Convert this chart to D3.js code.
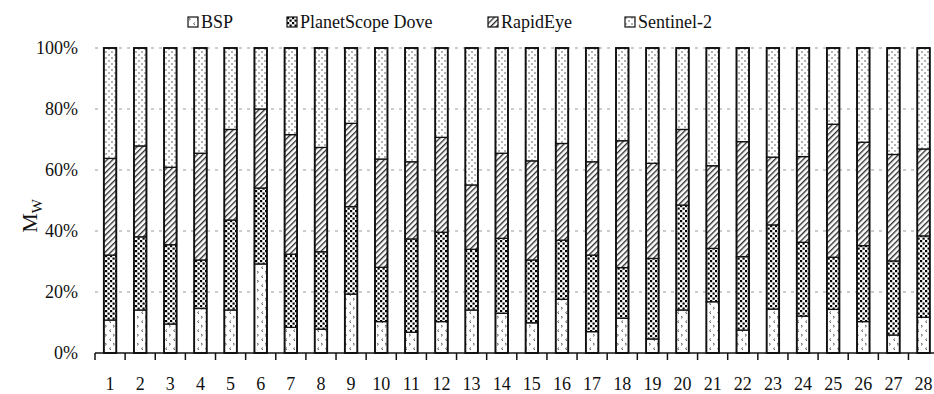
<!DOCTYPE html>
<html>
<head>
<meta charset="utf-8">
<script src="https://cdn.jsdelivr.net/npm/d3@7"></script>
<style>
  body { margin: 0; background: #fff; }
  svg { display: block; }
</style>
</head>
<body>
<svg id="chart" width="934" height="394"></svg>
<script>
// sample ids
var categories = d3.range(1, 29).map(String);
// share of each satellite in M_W (percent)
var bsp      = [10.8,14.1, 9.5,14.6,14.1,29.2, 8.4, 7.8,19.3,10.3, 6.8,10.3,14.1,13.0, 9.9,17.6, 7.0,11.4, 4.6,14.1,16.8, 7.5,14.4,12.1,14.3,10.3, 5.9,11.7];
var planet   = [21.3,24.0,26.0,15.9,29.5,24.9,24.0,25.4,28.7,17.8,30.6,29.3,19.9,24.6,20.6,19.4,25.1,16.6,26.4,34.4,17.5,24.1,27.6,24.2,17.1,24.9,24.3,26.7];
var rapideye = [31.7,29.8,25.4,35.0,29.7,25.9,39.2,34.2,27.3,35.5,25.3,31.1,21.1,27.9,32.5,31.7,30.6,41.6,31.2,24.8,27.1,37.7,22.2,28.1,43.6,33.9,34.9,28.5];
var sentinel = [36.2,32.1,39.1,34.5,26.7,20.0,28.4,32.6,24.7,36.4,37.3,29.3,44.9,34.5,37.0,31.3,37.3,30.4,37.8,26.7,38.6,30.7,35.8,35.6,25.0,30.9,34.9,33.1];
var seriesNames = ["BSP", "PlanetScope Dove", "RapidEye", "Sentinel-2"];
var yTicks = [0, 20, 40, 60, 80, 100];

var FONT = "'Liberation Serif', 'DejaVu Serif', serif";

var svg = d3.select("#chart");
var margin = {top: 48, left: 95, bottom: 41};
var height = 394 - margin.top - margin.bottom;
var plotRight = 938.6;

// ---- patterns ----
var defs = svg.append("defs");

var pBsp = defs.append("pattern").attr("id", "pat0")
    .attr("patternUnits", "userSpaceOnUse").attr("width", 8).attr("height", 9);
pBsp.append("rect").attr("width", 8).attr("height", 9).attr("fill", "#fff");
pBsp.append("path").attr("d", "M1,1 L2.5,2.2 L1,3.4").attr("fill", "none").attr("stroke", "#555").attr("stroke-width", 0.9);
pBsp.append("path").attr("d", "M7,5.5 L5.5,6.7 L7,7.9").attr("fill", "none").attr("stroke", "#555").attr("stroke-width", 0.9);

var pPl = defs.append("pattern").attr("id", "pat1")
    .attr("patternUnits", "userSpaceOnUse").attr("width", 5).attr("height", 5);
pPl.append("rect").attr("width", 5).attr("height", 5).attr("fill", "#fff");
pPl.append("rect").attr("x", 0).attr("y", 0).attr("width", 2.2).attr("height", 2.2).attr("fill", "#000");
pPl.append("rect").attr("x", 2.5).attr("y", 2.5).attr("width", 2.2).attr("height", 2.2).attr("fill", "#000");

var pRe = defs.append("pattern").attr("id", "pat2")
    .attr("patternUnits", "userSpaceOnUse").attr("width", 4).attr("height", 4)
    .attr("patternTransform", "rotate(45)");
pRe.append("rect").attr("width", 4).attr("height", 4).attr("fill", "#fff");
pRe.append("line").attr("x1", 0.7).attr("y1", 0).attr("x2", 0.7).attr("y2", 4)
    .attr("stroke", "#222").attr("stroke-width", 1.3);

var pSe = defs.append("pattern").attr("id", "pat3")
    .attr("patternUnits", "userSpaceOnUse").attr("width", 6).attr("height", 6);
pSe.append("rect").attr("width", 6).attr("height", 6).attr("fill", "#fff");
pSe.append("circle").attr("cx", 1).attr("cy", 1).attr("r", 0.8).attr("fill", "#555");
pSe.append("circle").attr("cx", 4).attr("cy", 4).attr("r", 0.8).attr("fill", "#555");

// ---- data ----
var data = categories.map(function(c, i) {
    return {cat: c, BSP: bsp[i], "PlanetScope Dove": planet[i], RapidEye: rapideye[i], "Sentinel-2": sentinel[i]};
});
var stacked = d3.stack().keys(seriesNames)(data);

var x = d3.scaleBand().domain(categories).range([margin.left, plotRight])
    .paddingInner(0.585).paddingOuter(0.2925);
var step = x.step();
var y = d3.scaleLinear().domain([0, 100]).range([margin.top + height, margin.top]);

// gridlines
svg.append("g").selectAll("line")
    .data(yTicks.filter(function(t) { return t > 0; }))
    .enter().append("line")
    .attr("x1", margin.left).attr("x2", 934)
    .attr("y1", function(d) { return y(d); }).attr("y2", function(d) { return y(d); })
    .attr("stroke", "#999").attr("stroke-width", 1.2).attr("stroke-dasharray", "3,5");

// y labels
svg.append("g").selectAll("text")
    .data(yTicks).enter().append("text")
    .attr("x", 78).attr("y", function(d) { return y(d); })
    .attr("dy", "0.35em").attr("text-anchor", "end")
    .attr("font-family", FONT).attr("font-size", 18).attr("fill", "#111")
    .text(function(d) { return d + "%"; });

// bars
var layer = svg.append("g").selectAll("g")
    .data(stacked).enter().append("g")
    .attr("fill", function(d, i) { return "url(#pat" + i + ")"; });

layer.selectAll("rect")
    .data(function(d) { return d; })
    .enter().append("rect")
    .attr("x", function(d) { return x(d.data.cat); })
    .attr("width", x.bandwidth())
    .attr("y", function(d) { return y(d[1]); })
    .attr("height", function(d) { return y(d[0]) - y(d[1]); })
    .attr("stroke", "#111").attr("stroke-width", 1.3);

svg.append("g").selectAll("rect")
    .data(data).enter().append("rect")
    .attr("x", function(d) { return x(d.cat); })
    .attr("width", x.bandwidth())
    .attr("y", y(100)).attr("height", y(0) - y(100))
    .attr("fill", "none").attr("stroke", "#111").attr("stroke-width", 1.8);

// x axis
var xa = svg.append("g");
xa.append("line").attr("x1", margin.left).attr("x2", 934)
    .attr("y1", y(0)).attr("y2", y(0)).attr("stroke", "#111").attr("stroke-width", 1.5);
xa.selectAll(".tk").data(d3.range(0, 29)).enter().append("line")
    .attr("x1", function(i) { return margin.left + i * step; })
    .attr("x2", function(i) { return margin.left + i * step; })
    .attr("y1", y(0)).attr("y2", y(0) + 7)
    .attr("stroke", "#111").attr("stroke-width", 1.5);
xa.selectAll("text").data(categories).enter().append("text")
    .attr("x", function(d) { return x(d) + x.bandwidth() / 2; })
    .attr("y", 390).attr("text-anchor", "middle")
    .attr("font-family", FONT).attr("font-size", 18).attr("fill", "#111")
    .text(function(d) { return d; });

// y title
var yt = svg.append("text")
    .attr("transform", "translate(37,216) rotate(-90)")
    .attr("text-anchor", "middle")
    .attr("font-family", FONT).attr("font-size", 22).attr("fill", "#111");
yt.append("tspan").text("M");
yt.append("tspan").attr("dy", 5).attr("font-size", 15).text("W");

// legend
var legendX = [188, 287, 488, 625];
var lg = svg.append("g").selectAll("g")
    .data(seriesNames).enter().append("g")
    .attr("transform", function(d, i) { return "translate(" + legendX[i] + ",17)"; });
lg.append("rect").attr("width", 10).attr("height", 10)
    .attr("fill", function(d, i) { return "url(#pat" + i + ")"; })
    .attr("stroke", "#111").attr("stroke-width", 1.2);
lg.append("text").attr("x", 13).attr("y", 11)
    .attr("font-family", FONT).attr("font-size", 18).attr("fill", "#111")
    .text(function(d) { return d; });
</script>
</body>
</html>
